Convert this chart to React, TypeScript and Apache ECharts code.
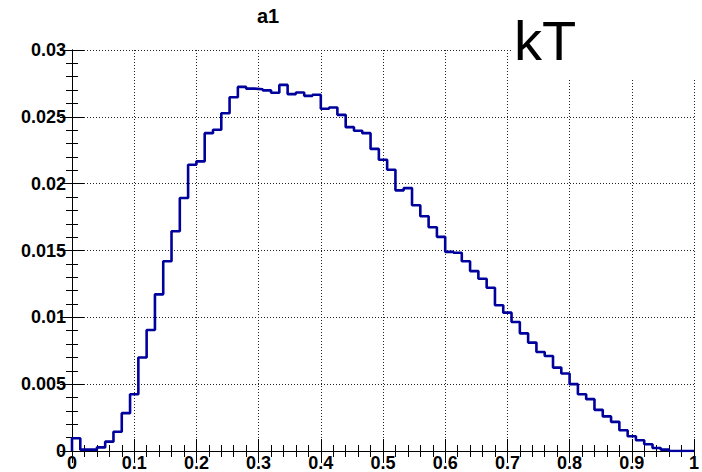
import React, { useEffect, useRef } from "react";
import * as echarts from "echarts";

// Histogram "a1" (kT): 75 bins on [0, 1]
const binCount = 75;
const xRange = [0, 1];
const binValues = [
  0.00095, 0.0001, 0.0001, 0.00027, 0.0007, 0.00144, 0.00283, 0.00425, 0.007, 0.00905,
  0.01172, 0.0142, 0.01644, 0.01893, 0.02142, 0.02167, 0.02378, 0.02403, 0.02527, 0.02646,
  0.02724, 0.02711, 0.02706, 0.02698, 0.0268, 0.02739, 0.0267, 0.02682, 0.02657, 0.02665,
  0.0256, 0.0257, 0.02515, 0.02423, 0.02396, 0.02378, 0.0226, 0.02179, 0.02104, 0.0195,
  0.01967, 0.01838, 0.01756, 0.01674, 0.01602, 0.0149, 0.01483, 0.0142, 0.01346, 0.01289,
  0.01221, 0.0109, 0.01035, 0.00965, 0.0088, 0.00811, 0.00741, 0.00711, 0.00624, 0.0058,
  0.005, 0.00425, 0.00388, 0.00308, 0.00259, 0.00218, 0.00155, 0.0011, 0.0008, 0.0005,
  0.00022, 0.0001, 0, 0, 0,
];
const xTickLabels = ["0", "0.1", "0.2", "0.3", "0.4", "0.5", "0.6", "0.7", "0.8", "0.9", "1"];
const yTickLabels = ["0", "0.005", "0.01", "0.015", "0.02", "0.025", "0.03"];
const titleText = "a1";
const legendText = "kT";

const FONT = "'Liberation Sans', Arial, Helvetica, sans-serif";

export default function App() {
  const ref = useRef<HTMLDivElement>(null);

  useEffect(() => {
    document.body.style.margin = "0";
    if (!ref.current) return;
    const chart = echarts.init(ref.current, null, { renderer: "svg" });

    const width = (xRange[1] - xRange[0]) / binCount;
    const data: number[][] = [[xRange[0], 0]];
    binValues.forEach((v, k) => data.push([xRange[0] + k * width, v]));
    data.push([xRange[1], binValues[binValues.length - 1]]);

    const xStep = 0.1;
    const yStep = 0.005;
    const xFmt = (v: number) => xTickLabels[Math.round(v / xStep)] ?? "";
    const yFmt = (v: number) => yTickLabels[Math.round(v / yStep)] ?? "";

    const axisCommon = {
      axisLine: { show: true, lineStyle: { color: "#000", width: 1 } },
      axisTick: { show: true, inside: true, length: 12, lineStyle: { color: "#000", width: 1 } },
      minorTick: { show: true, splitNumber: 5, length: 6, lineStyle: { color: "#000", width: 1 } },
    };
    const gridLine = { show: true, lineStyle: { color: "#222", type: [1, 2], width: 1 } };

    chart.setOption({
      animation: false,
      backgroundColor: "#fff",
      grid: { left: 72, right: 3, top: 50, bottom: 20, containLabel: false },
      xAxis: [
        {
          type: "value",
          min: 0,
          max: 1,
          interval: xStep,
          position: "bottom",
          ...axisCommon,
          axisLabel: {
            show: true,
            formatter: xFmt,
            color: "#000",
            fontFamily: FONT,
            fontWeight: "bold",
            fontSize: 18,
            margin: 3,
            showMaxLabel: true,
            showMinLabel: true,
          },
          splitLine: gridLine,
        },
        {
          type: "value",
          min: 0,
          max: 1,
          interval: xStep,
          position: "top",
          ...axisCommon,
          axisLabel: { show: false },
          splitLine: { show: false },
        },
      ],
      yAxis: [
        {
          type: "value",
          min: 0,
          max: 0.03,
          interval: yStep,
          position: "left",
          ...axisCommon,
          axisLabel: {
            show: true,
            formatter: yFmt,
            color: "#000",
            fontFamily: FONT,
            fontWeight: "bold",
            fontSize: 18,
            margin: 6,
          },
          splitLine: gridLine,
        },
        {
          type: "value",
          min: 0,
          max: 0.03,
          interval: yStep,
          position: "right",
          ...axisCommon,
          axisLabel: { show: false },
          splitLine: { show: false },
        },
      ],
      series: [
        {
          type: "line",
          step: "end",
          data,
          showSymbol: false,
          symbol: "none",
          lineStyle: { color: "#00009c", width: 2.6 },
          z: 5,
        },
      ],
      graphic: [
        {
          type: "rect",
          z: 100,
          shape: { x: 513, y: 0, width: 189, height: 80 },
          style: { fill: "#fff" },
        },
        {
          type: "text",
          z: 101,
          x: 514,
          y: 40,
          style: {
            text: legendText,
            font: `56px ${FONT}`,
            fill: "#000",
            textAlign: "left",
            textVerticalAlign: "middle",
          },
        },
        {
          type: "text",
          z: 101,
          x: 268,
          y: 16,
          style: {
            text: titleText,
            fontFamily: FONT,
            fontWeight: "bold",
            fontSize: 20,
            fill: "#000",
            textAlign: "center",
            textVerticalAlign: "middle",
          },
        },
      ],
    });

    return () => chart.dispose();
  }, []);

  return <div ref={ref} style={{ width: 702, height: 472 }} />;
}
